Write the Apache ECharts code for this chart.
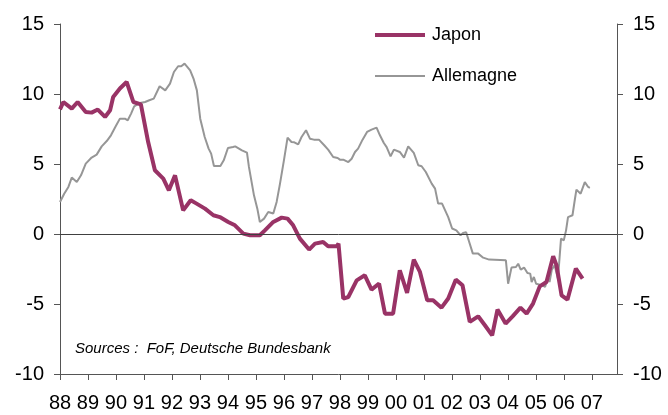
<!DOCTYPE html>
<html>
<head>
<meta charset="utf-8">
<script src="https://cdn.jsdelivr.net/npm/echarts@6/dist/echarts.min.js"></script>
<style>
  html, body { margin: 0; padding: 0; background: #fff; }
  #main { width: 668px; height: 415px; }
</style>
</head>
<body>
<div id="main"></div>
<script>
// ticks of the value axes
const yTicks = [-10, -5, 0, 5, 10, 15];
const yearTicks = [1988, 1989, 1990, 1991, 1992, 1993, 1994, 1995, 1996, 1997,
  1998, 1999, 2000, 2001, 2002, 2003, 2004, 2005, 2006, 2007];

// Japon (dates in decimal years)
const japonDates = [1988.00, 1988.12, 1988.42, 1988.63, 1988.92, 1989.13, 1989.35, 1989.61, 1989.79, 1989.90,
  1990.14, 1990.38, 1990.62, 1990.89, 1991.15, 1991.39, 1991.69, 1991.89, 1992.11, 1992.40,
  1992.67, 1992.88, 1993.18, 1993.48, 1993.71, 1994.01, 1994.25, 1994.55, 1994.79, 1995.14,
  1995.32, 1995.62, 1995.92, 1996.13, 1996.33, 1996.57, 1996.90, 1997.11, 1997.40, 1997.58,
  1997.88, 1997.95, 1998.12, 1998.30, 1998.60, 1998.89, 1999.13, 1999.40, 1999.61, 1999.90,
  2000.14, 2000.40, 2000.64, 2000.86, 2001.12, 2001.33, 2001.63, 2001.87, 2002.14, 2002.38,
  2002.64, 2002.94, 2003.18, 2003.44, 2003.63, 2003.92, 2004.17, 2004.45, 2004.67, 2004.90,
  2005.14, 2005.38, 2005.62, 2005.74, 2005.92, 2006.13, 2006.43, 2006.67];
const japonValues = [8.9, 9.43, 8.96, 9.43, 8.71, 8.67, 8.89, 8.36, 8.84, 9.79,
  10.39, 10.86, 9.43, 9.26, 6.57, 4.55, 3.96, 3.12, 4.19, 1.69,
  2.41, 2.17, 1.81, 1.34, 1.21, 0.86, 0.62, 0.03, -0.09, -0.09,
  0.26, 0.86, 1.17, 1.1, 0.62, -0.33, -1.11, -0.69, -0.57, -0.88,
  -0.88, -0.69, -4.61, -4.5, -3.31, -2.95, -3.97, -3.54, -5.69, -5.69,
  -2.59, -4.21, -1.83, -2.71, -4.74, -4.74, -5.26, -4.61, -3.26, -3.66,
  -6.28, -5.88, -6.52, -7.24, -5.4, -6.4, -5.88, -5.26, -5.69, -4.97,
  -3.74, -3.43, -1.59, -2.24, -4.38, -4.69, -2.47, -3.19];

// Allemagne (dates in decimal years)
const allemagneDates = [1988.00, 1988.15, 1988.30, 1988.42, 1988.60, 1988.75, 1988.92, 1989.13, 1989.31, 1989.49,
  1989.67, 1989.82, 1989.99, 1990.14, 1990.32, 1990.42, 1990.54, 1990.65, 1990.86, 1991.04,
  1991.19, 1991.35, 1991.56, 1991.76, 1991.93, 1992.07, 1992.22, 1992.33, 1992.45, 1992.51,
  1992.65, 1992.77, 1992.89, 1993.01, 1993.17, 1993.31, 1993.40, 1993.50, 1993.73, 1993.85,
  1994.00, 1994.18, 1994.26, 1994.50, 1994.68, 1994.75, 1994.93, 1995.05, 1995.14, 1995.29,
  1995.44, 1995.62, 1995.74, 1995.86, 1996.00, 1996.13, 1996.27, 1996.37, 1996.51, 1996.63,
  1996.79, 1996.93, 1997.07, 1997.25, 1997.44, 1997.58, 1997.76, 1997.92, 1998.00, 1998.12,
  1998.30, 1998.42, 1998.54, 1998.65, 1998.81, 1998.97, 1999.13, 1999.31, 1999.43, 1999.57,
  1999.67, 1999.81, 1999.93, 2000.14, 2000.29, 2000.44, 2000.64, 2000.80, 2000.92, 2001.07,
  2001.28, 2001.40, 2001.51, 2001.65, 2001.87, 2002.01, 2002.16, 2002.31, 2002.40, 2002.51,
  2002.62, 2002.75, 2002.94, 2003.12, 2003.33, 2003.93, 2004.01, 2004.13, 2004.29, 2004.37,
  2004.46, 2004.58, 2004.70, 2004.80, 2004.85, 2004.93, 2005.01, 2005.25, 2005.33, 2005.43,
  2005.49, 2005.57, 2005.67, 2005.79, 2005.90, 2006.00, 2006.08, 2006.15, 2006.31, 2006.39,
  2006.45, 2006.60, 2006.75, 2006.87, 2006.93];
const allemagneValues = [2.29, 2.88, 3.36, 4.03, 3.71, 4.19, 5.03, 5.46, 5.67, 6.26,
  6.64, 7.05, 7.69, 8.24, 8.24, 8.12, 8.6, 9.12, 9.36, 9.43,
  9.55, 9.67, 10.55, 10.26, 10.74, 11.57, 11.98, 11.98, 12.17, 12.1,
  11.69, 11.1, 10.26, 8.24, 6.93, 6.1, 5.74, 4.86, 4.86, 5.26,
  6.14, 6.21, 6.26, 5.98, 5.81, 4.79, 2.76, 1.81, 0.86, 1.1,
  1.57, 1.46, 2.29, 3.6, 5.26, 6.89, 6.57, 6.55, 6.4, 6.93,
  7.41, 6.81, 6.74, 6.74, 6.34, 6.03, 5.5, 5.43, 5.31, 5.31,
  5.14, 5.38, 5.86, 6.1, 6.74, 7.29, 7.46, 7.6, 7.05, 6.5,
  6.21, 5.55, 6.03, 5.86, 5.46, 6.26, 5.79, 4.91, 4.84, 4.43,
  3.6, 3.24, 2.17, 2.17, 1.21, 0.39, 0.26, -0.09, 0.07, 0.12,
  -0.57, -1.4, -1.4, -1.69, -1.83, -1.88, -3.55, -2.4, -2.36, -2.12,
  -2.55, -2.4, -2.79, -2.83, -3.43, -3.07, -3.55, -3.67, -3.79, -3.07,
  -3.43, -2.55, -2.24, -3.19, -0.33, -0.45, 0.26, 1.21, 1.34, 2.41,
  3.17, 2.88, 3.71, 3.36, 3.3];

const sourceText = 'Sources :  FoF, Deutsche Bundesbank';

const myChart = echarts.init(document.getElementById('main'));

const axisColor = '#555555';
const fontFamily = 'Liberation Sans, Arial, sans-serif';
const japonColor = '#993366';
const allemagneColor = '#969696';

function yAxisCfg(pos) {
  return {
    type: 'value',
    position: pos,
    min: yTicks[0],
    max: yTicks[yTicks.length - 1],
    interval: 5,
    splitLine: { show: false },
    axisLine: { show: true, lineStyle: { color: axisColor, width: 1 } },
    axisTick: { show: true, inside: false, length: 6, lineStyle: { color: axisColor } },
    axisLabel: { color: '#000', fontSize: 20, fontFamily: fontFamily, margin: 16 }
  };
}

// one legend per series so each icon can have its own thickness
function legendCfg(name, top, thickness) {
  return {
    data: [{ name: name, icon: 'rect' }],
    left: 375,
    top: top,
    padding: 0,
    itemWidth: 50,
    itemHeight: thickness,
    itemGap: 0,
    textStyle: { fontSize: 18, fontFamily: fontFamily, color: '#000', padding: [0, 0, 0, 2] }
  };
}

const option = {
  backgroundColor: '#fff',
  animation: false,
  grid: { left: 60, right: 51, top: 24, bottom: 41, containLabel: false },
  legend: [legendCfg('Japon', 26, 4), legendCfg('Allemagne', 67, 2)],
  xAxis: {
    type: 'value',
    min: yearTicks[0],
    max: 2007.9,
    interval: 1,
    splitLine: { show: false },
    axisLine: { show: true, onZero: false, lineStyle: { color: axisColor } },
    axisTick: { show: true, length: 6, lineStyle: { color: axisColor } },
    axisLabel: {
      color: '#000', fontSize: 20, fontFamily: fontFamily, margin: 19,
      showMaxLabel: false,
      formatter: function (v) {
        if (yearTicks.indexOf(v) < 0) return '';
        return String(v).slice(2);
      }
    }
  },
  yAxis: [yAxisCfg('left'), yAxisCfg('right')],
  graphic: [{
    type: 'text',
    left: 75,
    top: 341,
    style: {
      text: sourceText,
      fontSize: 15,
      fontStyle: 'italic',
      fontFamily: fontFamily,
      fill: '#000'
    }
  }],
  series: [
    {
      name: 'Allemagne',
      type: 'line',
      showSymbol: false,
      symbol: 'none',
      data: allemagneDates.map((d, i) => [d, allemagneValues[i]]),
      lineStyle: { color: allemagneColor, width: 2 },
      itemStyle: { color: allemagneColor },
      markLine: {
        silent: true,
        symbol: 'none',
        label: { show: false },
        lineStyle: { color: '#404040', width: 1, type: 'solid' },
        data: [{ yAxis: 0 }]
      },
      z: 2
    },
    {
      name: 'Japon',
      type: 'line',
      showSymbol: false,
      symbol: 'none',
      data: japonDates.map((d, i) => [d, japonValues[i]]),
      lineStyle: { color: japonColor, width: 4 },
      itemStyle: { color: japonColor },
      z: 3
    }
  ]
};

myChart.setOption(option);
</script>
</body>
</html>
